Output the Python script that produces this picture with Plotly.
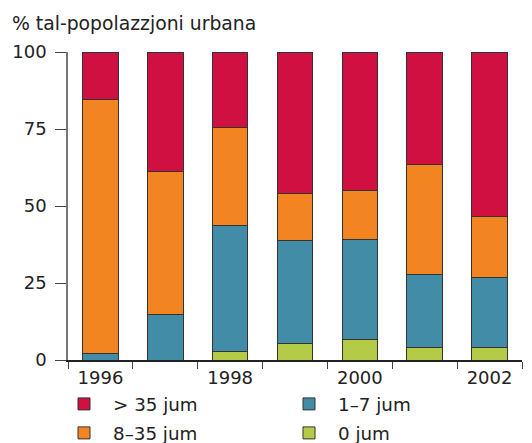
import plotly.graph_objects as go

years = [1996, 1997, 1998, 1999, 2000, 2001, 2002]
tick_years = [1996, 1998, 2000, 2002]
days_0 = [0.0, 0.0, 2.9, 5.3, 6.8, 4.2, 4.2]
days_1_7 = [2.0, 14.9, 40.7, 33.6, 32.3, 23.6, 22.7]
days_8_35 = [82.6, 46.2, 31.8, 15.0, 15.8, 35.7, 19.7]
days_gt35 = [15.4, 38.9, 24.6, 46.1, 45.1, 36.5, 53.4]

# name, values, colour, legend row
series = [
    ("0 jum", days_0, "#B3CB46", "legend2"),
    ("1–7 jum", days_1_7, "#438CA8", "legend"),
    ("8–35 jum", days_8_35, "#F28522", "legend2"),
    ("> 35 jum", days_gt35, "#D01040", "legend"),
]
legend_rank = {"> 35 jum": 1, "1–7 jum": 2, "8–35 jum": 1, "0 jum": 2}

FONT = "DejaVu Sans"
fig = go.Figure()
for name, vals, color, lg in series:
    fig.add_trace(go.Bar(
        x=years, y=vals, name=name, legend=lg, legendrank=legend_rank[name],
        marker=dict(color=color, line=dict(color="#333333", width=1)),
        width=0.55,
    ))

def legend_row(yc):
    return dict(orientation="h", x=55/532, xref="container", xanchor="left",
                y=1 - yc/443, yref="container", yanchor="middle",
                entrywidth=162, entrywidthmode="pixels", traceorder="normal",
                itemwidth=48, bgcolor="rgba(0,0,0,0)",
                font=dict(family=FONT, size=18.3, color="#222222"))

fig.update_layout(
    barmode="stack",
    width=532, height=443,
    margin=dict(l=68, r=10, t=52, b=83, autoexpand=False),
    paper_bgcolor="white", plot_bgcolor="white",
    font=dict(family=FONT, size=18, color="#222222"),
    title=dict(text="% tal-popolazzjoni urbana", x=12/532, xanchor="left",
               xref="container", y=1-23/443, yanchor="middle", yref="container",
               font=dict(family=FONT, size=18.8, color="#222222")),
    showlegend=True,
    legend=legend_row(404),
    legend2=legend_row(433),
)
fig.update_xaxes(
    range=[1995.5, 2002.5], tickvals=tick_years, ticks="", showgrid=False,
    showline=True, linecolor="#222222", linewidth=1.5,
    ticklabelstandoff=1,
    minor=dict(tickvals=[y - 0.5 for y in years] + [years[-1] + 0.5], ticks="outside",
               ticklen=7, tickcolor="#444444", tickwidth=1, showgrid=False),
)
fig.update_yaxes(
    range=[0, 100], tickvals=[0, 25, 50, 75, 100], ticks="outside", ticklen=11,
    tickcolor="#444444", showgrid=False, zeroline=False, ticklabelstandoff=5,
    showline=True, linecolor="#777777", linewidth=1.5,
)
fig.write_html("out.html", config={"displayModeBar": False},
               post_script="document.body.style.margin='0';")
